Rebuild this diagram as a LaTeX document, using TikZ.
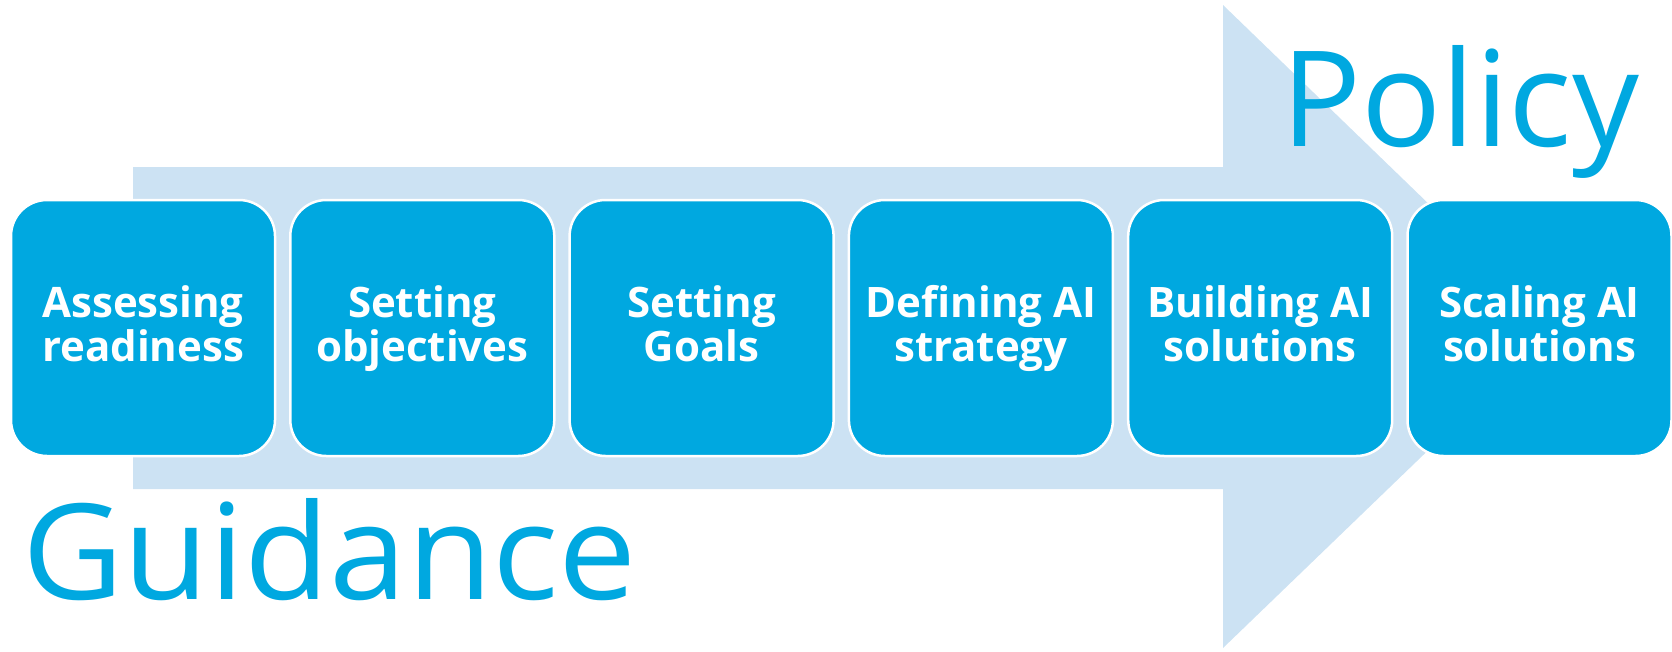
\documentclass[tikz,border=0pt]{standalone}
\usepackage{fontspec}
\setmainfont{Open Sans}
\definecolor{boxblue}{RGB}{0,168,224}
\definecolor{arrowblue}{RGB}{204,226,243}
\newcommand\tallstrut{\rule{0pt}{37pt}}
\begin{document}
\begin{tikzpicture}[x=1pt,y=-1pt,
  stepbox/.style={draw=white, line width=2.5pt, fill=boxblue, rounded corners=36pt,
    minimum width=264pt, minimum height=256pt, inner sep=0pt, text=white,
    font=\bfseries\fontsize{42}{44}\selectfont, align=center},
  bigtext/.style={text=boxblue, inner sep=0pt, font=\fontsize{133}{140}\selectfont}]
\useasboundingbox (0,0) rectangle (1672,651);
\fill[arrowblue] (133,167) -- (1223,167) -- (1223,5) -- (1556,327) -- (1223,648) -- (1223,489) -- (133,489) -- cycle;
\node[bigtext, anchor=base west] (policy) at (1281,146) {Policy};
\node[bigtext, anchor=base west] (guidance) at (22,599) {\scalebox{1.047}[1]{Guidance}};
\node[stepbox] (s1) at (143,328) {\tallstrut Assessing\\\strut readiness};
\node[stepbox] (s2) at (422.3,328) {\tallstrut Setting\\\strut objectives};
\node[stepbox] (s3) at (701.6,328) {\tallstrut Setting\\\strut Goals};
\node[stepbox] (s4) at (980.9,328) {\tallstrut Defining AI\\\strut strategy};
\node[stepbox] (s5) at (1260.2,328) {\tallstrut Building AI\\\strut solutions};
\node[stepbox] (s6) at (1539.5,328) {\tallstrut Scaling AI\\\strut solutions};
\end{tikzpicture}
\end{document}
